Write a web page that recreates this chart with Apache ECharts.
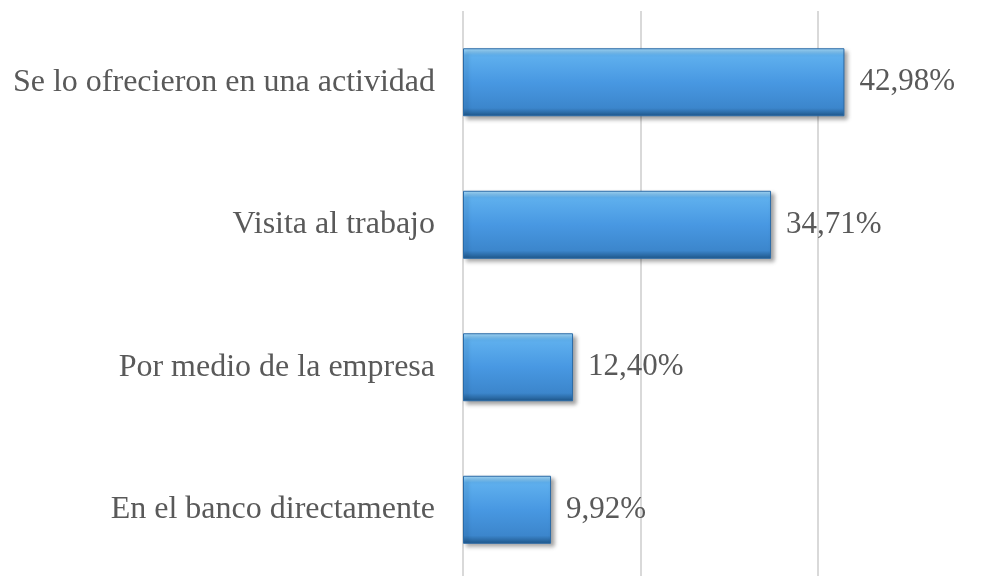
<!DOCTYPE html>
<html>
<head>
<meta charset="utf-8">
<script src="https://cdn.jsdelivr.net/npm/echarts@6/dist/echarts.min.js"></script>
<style>
  html, body { margin: 0; padding: 0; background: #fff; }
  #chart { width: 991px; height: 576px; }
</style>
</head>
<body>
<div id="chart"></div>
<script>
// categories top to bottom
var categories = [
  'Se lo ofrecieron en una actividad',
  'Visita al trabajo',
  'Por medio de la empresa',
  'En el banco directamente'
];
var values = [42.98, 34.71, 12.40, 9.92];

var barColor = new echarts.graphic.LinearGradient(0, 0, 0, 1, [
  { offset: 0, color: '#a8dcfa' },
  { offset: 0.1, color: '#5fb0ee' },
  { offset: 0.5, color: '#4898e2' },
  { offset: 0.88, color: '#3c86cc' },
  { offset: 1, color: '#1e5689' }
]);

var chart = echarts.init(document.getElementById('chart'));
chart.setOption({
  animation: false,
  backgroundColor: '#ffffff',
  grid: { left: 463, width: 532.5, top: 11, height: 570, outerBoundsMode: 'none', containLabel: false },
  xAxis: {
    type: 'value',
    min: 0,
    max: 60,
    interval: 20,
    axisLabel: { show: false },
    axisLine: { show: false },
    axisTick: { show: false },
    splitLine: { lineStyle: { color: '#d9d9d9', width: 2 } }
  },
  yAxis: {
    type: 'category',
    inverse: true,
    data: categories,
    axisLine: { show: false },
    axisTick: { show: false },
    axisLabel: {
      margin: 28,
      fontFamily: 'Liberation Serif',
      fontSize: 32,
      color: '#595959'
    }
  },
  series: [{
    type: 'bar',
    data: values,
    barWidth: 68,
    itemStyle: {
      color: barColor,
      borderColor: '#2a6aa6',
      borderWidth: 1,
      shadowColor: 'rgba(0,0,0,0.35)',
      shadowBlur: 4,
      shadowOffsetX: 3,
      shadowOffsetY: 3
    },
    label: {
      show: true,
      position: 'right',
      distance: 15,
      fontFamily: 'Liberation Serif',
      fontSize: 31,
      color: '#595959',
      formatter: function (p) {
        return p.value.toFixed(2).replace('.', ',') + '%';
      }
    }
  }]
});
</script>
</body>
</html>
